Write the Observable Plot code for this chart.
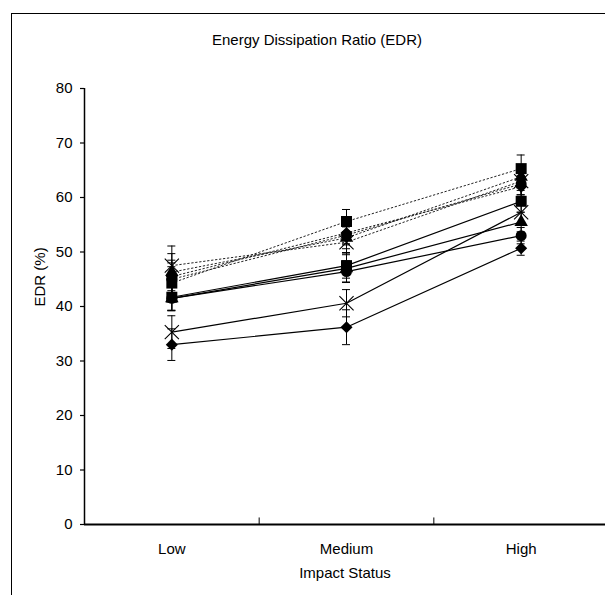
<!DOCTYPE html>
<html><head><meta charset="utf-8">
<script src="https://cdn.jsdelivr.net/npm/d3@7"></script>
<script src="https://cdn.jsdelivr.net/npm/@observablehq/plot@0.6"></script>
<style>
body{margin:0;background:#fff;font-family:"Liberation Sans",Arial,sans-serif;}
#wrap{position:relative;width:605px;height:595px;overflow:hidden;background:#fff;}
#frame{position:absolute;left:11px;top:13px;width:700px;height:700px;border-left:1px solid #000;border-top:1px solid #000;}
#title{position:absolute;left:0;width:634px;top:31px;text-align:center;font-size:15px;color:#000;}
#chart{position:absolute;left:0;top:0;}
</style></head><body>
<div id="wrap"><div id="frame"></div><div id="title">Energy Dissipation Ratio (EDR)</div><div id="chart"></div></div>
<script>
const categories = ["Low", "Medium", "High"];
const yTicks = [0, 10, 20, 30, 40, 50, 60, 70, 80];

// dotted series (values, error)
const dotDiamond = [45.5, 53.5, 62.0];
const dotDiamondErr = [3.0, 2.0, 2.0];
const dotSquare = [44.3, 55.6, 65.3];
const dotSquareErr = [3.0, 2.2, 2.5];
const dotTriangle = [46.3, 52.6, 63.8];
const dotTriangleErr = [3.4, 2.0, 2.0];
const dotTimes = [47.5, 51.8, 63.0];
const dotTimesErr = [3.6, 1.9, 2.5];
const dotCircle = [45.0, 53.1, 62.5];
const dotCircleErr = [3.0, 1.8, 2.0];

// solid series
const solDiamond = [33.0, 36.2, 50.7];
const solDiamondErr = [2.9, 3.2, 1.3];
const solSquare = [41.7, 47.5, 59.3];
const solSquareErr = [2.5, 2.3, 2.0];
const solTriangle = [41.5, 47.0, 55.5];
const solTriangleErr = [2.2, 2.5, 1.8];
const solTimes = [35.3, 40.6, 57.3];
const solTimesErr = [3.0, 2.5, 2.0];
const solCircle = [41.5, 46.4, 53.0];
const solCircleErr = [2.2, 2.0, 1.5];

const series = [
  {name: "dotted-diamond", dash: true, symbol: "diamond", v: dotDiamond, e: dotDiamondErr},
  {name: "dotted-square", dash: true, symbol: "square", v: dotSquare, e: dotSquareErr},
  {name: "dotted-triangle", dash: true, symbol: "triangle", v: dotTriangle, e: dotTriangleErr},
  {name: "dotted-times", dash: true, symbol: "times", v: dotTimes, e: dotTimesErr},
  {name: "dotted-circle", dash: true, symbol: "circle", v: dotCircle, e: dotCircleErr},
  {name: "solid-diamond", dash: false, symbol: "diamond", v: solDiamond, e: solDiamondErr},
  {name: "solid-square", dash: false, symbol: "square", v: solSquare, e: solSquareErr},
  {name: "solid-triangle", dash: false, symbol: "triangle", v: solTriangle, e: solTriangleErr},
  {name: "solid-times", dash: false, symbol: "times", v: solTimes, e: solTimesErr},
  {name: "solid-circle", dash: false, symbol: "circle", v: solCircle, e: solCircleErr}
];

const rows = [];
for (const s of series) {
  categories.forEach((c, i) => {
    rows.push({series: s.name, dash: s.dash, symbol: s.symbol, cat: c, x: i + 0.5, y: s.v[i], lo: s.v[i] - s.e[i], hi: s.v[i] + s.e[i]});
  });
}
const dashed = rows.filter(d => d.dash);
const solid = rows.filter(d => !d.dash);
const sym = s => rows.filter(d => d.symbol === s);

// Excel-style diamond: a square rotated 45°
const rhombus = {
  draw(ctx, size) {
    const h = Math.sqrt(size) * 0.62;
    ctx.moveTo(0, -h); ctx.lineTo(h, 0); ctx.lineTo(0, h); ctx.lineTo(-h, 0); ctx.closePath();
  }
};

const chart = Plot.plot({
  width: 605,
  height: 595,
  marginLeft: 84,
  marginTop: 88,
  marginBottom: 71,
  marginRight: 0,
  style: {fontFamily: "'Liberation Sans', Arial, sans-serif", fontSize: "15px", background: "transparent", color: "#000"},
  x: {domain: [0, 3], range: [84, 608]},
  y: {domain: [0, 80]},
  marks: [
    Plot.axisY({ticks: yTicks, tickSize: 4, tickPadding: 8, label: null, strokeWidth: 1.2}),
    Plot.axisX({ticks: [0.5, 1.5, 2.5], tickSize: 0, tickPadding: 19, tickFormat: d => categories[Math.floor(d)], label: null}),
    Plot.ruleX([1, 2], {y1: 0, y2: 1.2, stroke: "#000", strokeWidth: 1}),
    Plot.text(["EDR (%)"], {frameAnchor: "left", rotate: -90, dx: -44, fontSize: 15}),
    Plot.text(["Impact Status"], {frameAnchor: "bottom", dy: 53, fontSize: 15}),
    // error bars
    Plot.ruleX(rows, {x: "x", y1: "lo", y2: "hi", stroke: "#000", strokeWidth: 1}),
    Plot.ruleY(rows, {y: "lo", x1: "x", x2: "x", insetLeft: -4, insetRight: -4, stroke: "#000", strokeWidth: 1}),
    Plot.ruleY(rows, {y: "hi", x1: "x", x2: "x", insetLeft: -4, insetRight: -4, stroke: "#000", strokeWidth: 1}),
    // lines
    Plot.line(dashed, {x: "x", y: "y", z: "series", stroke: "#222", strokeWidth: 1, strokeDasharray: "1.5,2.5"}),
    Plot.line(solid, {x: "x", y: "y", z: "series", stroke: "#000", strokeWidth: 1.2}),
    // markers
    Plot.dot(sym("diamond"), {x: "x", y: "y", symbol: rhombus, r: 5.5, fill: "#000", stroke: "none"}),
    Plot.dot(sym("square"), {x: "x", y: "y", symbol: "square", r: 6.2, fill: "#000", stroke: "none"}),
    Plot.dot(sym("triangle"), {x: "x", y: "y", symbol: "triangle", r: 5, fill: "#000", stroke: "none"}),
    Plot.dot(sym("circle"), {x: "x", y: "y", symbol: "circle", r: 5.5, fill: "#000", stroke: "none"}),
    Plot.dot(sym("times"), {x: "x", y: "y", symbol: "times", r: 6.5, fill: "none", stroke: "#000", strokeWidth: 1.1}),
    // axis lines
    Plot.ruleX([0], {y1: 0, y2: 80, stroke: "#000", strokeWidth: 1.5}),
    Plot.ruleY([0], {stroke: "#000", strokeWidth: 2})
  ]
});
document.getElementById("chart").appendChild(chart);
</script>
</body></html>
